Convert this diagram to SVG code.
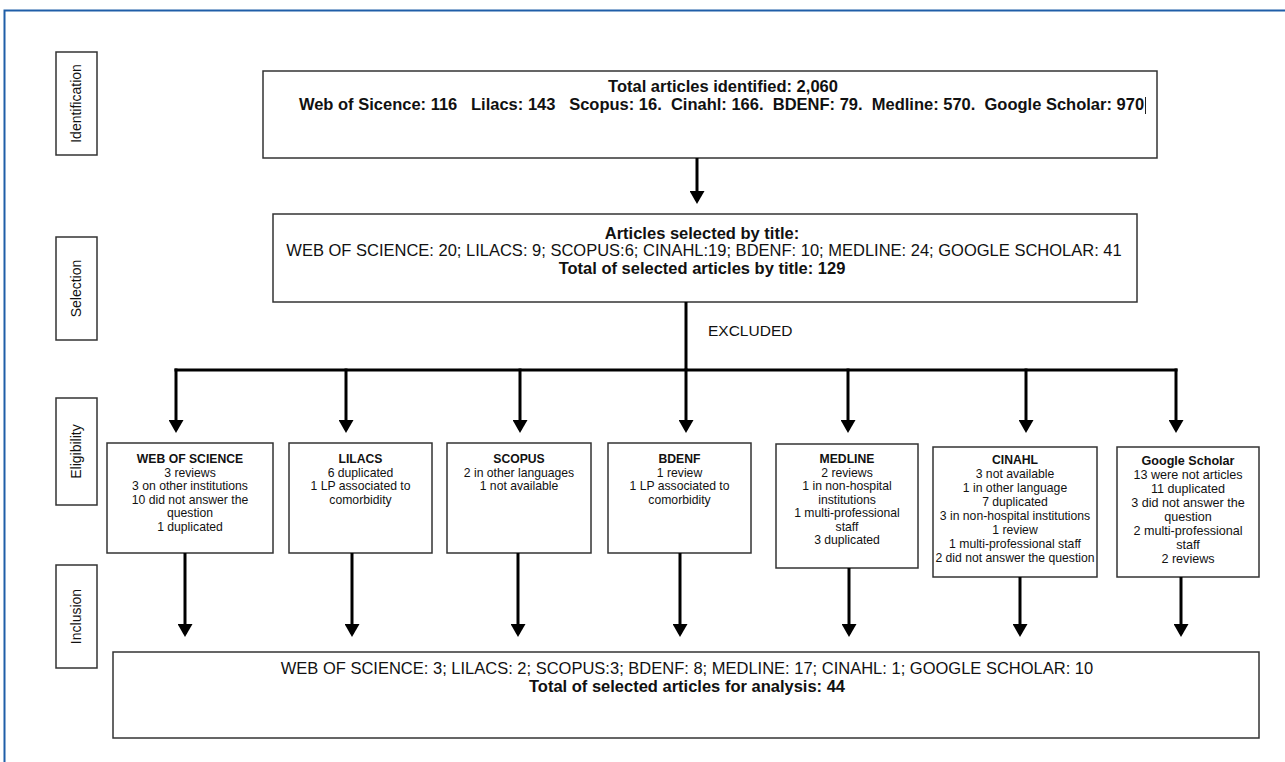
<svg xmlns="http://www.w3.org/2000/svg" width="1285" height="762" viewBox="0 0 1285 762">
<style>
text{font-family:"Liberation Sans",Arial,Helvetica,sans-serif;fill:#111;text-anchor:middle}
.b{font-weight:bold}
.box{fill:#fff;stroke:#333;stroke-width:1.5}
.big{font-size:16.5px}
.sm{font-size:12.2px}
.lab{font-size:14px}
.conn line{stroke:#000;stroke-width:3}
.arr{marker-end:url(#ah)}
</style>
<defs>
<marker id="ah" markerUnits="userSpaceOnUse" markerWidth="15" markerHeight="15" refX="10" refY="7.5" orient="auto">
<path d="M0,0 L13,7.5 L0,15 z" fill="#000"/>
</marker>
</defs>
<rect width="1285" height="762" fill="#fff"/>
<path d="M4.5,762 V10.5 H1285" fill="none" stroke="#1f5ea8" stroke-width="2"/>

<g id="label-identification"><rect class="box" x="56" y="52" width="41" height="103"/><text class="lab" transform="translate(81,103.5) rotate(-90)">Identification</text></g>
<g id="label-selection"><rect class="box" x="56" y="237" width="41" height="103"/><text class="lab" transform="translate(81,288.5) rotate(-90)">Selection</text></g>
<g id="label-eligibility"><rect class="box" x="56" y="398" width="41" height="107"/><text class="lab" transform="translate(81,451.5) rotate(-90)">Eligibility</text></g>
<g id="label-inclusion"><rect class="box" x="56" y="565" width="41" height="103"/><text class="lab" transform="translate(81,616.5) rotate(-90)">Inclusion</text></g>

<g id="identified"><rect class="box" x="263" y="71" width="894" height="87"/>
<text class="big b" x="723" y="92">Total articles identified: 2,060</text>
<text class="big b" x="721.5" y="110" xml:space="preserve">Web of Sicence: 116   Lilacs: 143   Scopus: 16.  Cinahl: 166.  BDENF: 79.  Medline: 570.  Google Scholar: 970</text>
<line x1="1145.5" y1="97" x2="1145.5" y2="114" stroke="#222" stroke-width="1"/>
</g>

<g id="selected"><rect class="box" x="273" y="214" width="864" height="88"/>
<text class="big b" x="702" y="239">Articles selected by title:</text>
<text class="big" x="704" y="256">WEB OF SCIENCE: 20; LILACS: 9; SCOPUS:6; CINAHL:19; BDENF: 10; MEDLINE: 24; GOOGLE SCHOLAR: 41</text>
<text class="big b" x="702" y="274">Total of selected articles by title: 129</text>
</g>

<g id="excluded-label"><text x="708" y="336" style="font-size:15.5px;text-anchor:start">EXCLUDED</text></g>

<g id="wos"><rect class="box" x="107" y="443" width="166" height="110"/>
<text class="sm b" x="190" y="463">WEB OF SCIENCE</text>
<text class="sm" x="190" y="476.5">3 reviews</text>
<text class="sm" x="190" y="490">3 on other institutions</text>
<text class="sm" x="190" y="503.5">10 did not answer the</text>
<text class="sm" x="190" y="517">question</text>
<text class="sm" x="190" y="530.5">1 duplicated</text>
</g>
<g id="lilacs"><rect class="box" x="289" y="443" width="143" height="110"/>
<text class="sm b" x="360.5" y="463">LILACS</text>
<text class="sm" x="360.5" y="476.5">6 duplicated</text>
<text class="sm" x="360.5" y="490">1 LP associated to</text>
<text class="sm" x="360.5" y="503.5">comorbidity</text>
</g>
<g id="scopus"><rect class="box" x="447" y="443" width="144" height="110"/>
<text class="sm b" x="519" y="463">SCOPUS</text>
<text class="sm" x="519" y="476.5">2 in other languages</text>
<text class="sm" x="519" y="490">1 not available</text>
</g>
<g id="bdenf"><rect class="box" x="608" y="443" width="143" height="110"/>
<text class="sm b" x="679.5" y="463">BDENF</text>
<text class="sm" x="679.5" y="476.5">1 review</text>
<text class="sm" x="679.5" y="490">1 LP associated to</text>
<text class="sm" x="679.5" y="503.5">comorbidity</text>
</g>
<g id="medline"><rect class="box" x="776" y="444" width="142" height="124"/>
<text class="sm b" x="847" y="463">MEDLINE</text>
<text class="sm" x="847" y="476.5">2 reviews</text>
<text class="sm" x="847" y="490">1 in non-hospital</text>
<text class="sm" x="847" y="503.5">institutions</text>
<text class="sm" x="847" y="517">1 multi-professional</text>
<text class="sm" x="847" y="530.5">staff</text>
<text class="sm" x="847" y="544">3 duplicated</text>
</g>
<g id="cinahl"><rect class="box" x="933" y="447" width="164" height="130"/>
<text class="sm b" x="1015" y="464">CINAHL</text>
<text class="sm" x="1015" y="478">3 not available</text>
<text class="sm" x="1015" y="492">1 in other language</text>
<text class="sm" x="1015" y="506">7 duplicated</text>
<text class="sm" x="1015" y="520">3 in non-hospital institutions</text>
<text class="sm" x="1015" y="534">1 review</text>
<text class="sm" x="1015" y="548">1 multi-professional staff</text>
<text class="sm" x="1015" y="562">2 did not answer the question</text>
</g>
<g id="google"><rect class="box" x="1117" y="447" width="142" height="130"/>
<text class="sm b" x="1188" y="465" style="font-size:12.6px">Google Scholar</text>
<text class="sm" x="1188" y="479" style="font-size:12.6px">13 were not articles</text>
<text class="sm" x="1188" y="493" style="font-size:12.6px">11 duplicated</text>
<text class="sm" x="1188" y="507" style="font-size:12.6px">3 did not answer the</text>
<text class="sm" x="1188" y="521" style="font-size:12.6px">question</text>
<text class="sm" x="1188" y="535" style="font-size:12.6px">2 multi-professional</text>
<text class="sm" x="1188" y="549" style="font-size:12.6px">staff</text>
<text class="sm" x="1188" y="563" style="font-size:12.6px">2 reviews</text>
</g>

<g id="included"><rect class="box" x="113" y="652" width="1146" height="86"/>
<text class="big" x="687" y="674">WEB OF SCIENCE: 3; LILACS: 2; SCOPUS:3; BDENF: 8; MEDLINE: 17; CINAHL: 1; GOOGLE SCHOLAR: 10</text>
<text class="big b" x="687" y="692">Total of selected articles for analysis: 44</text>
</g>

<g id="connectors" class="conn">
<line class="arr" x1="697" y1="158" x2="697" y2="201"/>
<line x1="686" y1="302" x2="686" y2="371"/>
<line x1="174.5" y1="370" x2="1177.5" y2="370"/>
<line class="arr" x1="176" y1="368.5" x2="176" y2="430"/>
<line class="arr" x1="346" y1="368.5" x2="346" y2="430"/>
<line class="arr" x1="520" y1="368.5" x2="520" y2="430"/>
<line class="arr" x1="686" y1="368.5" x2="686" y2="430"/>
<line class="arr" x1="848" y1="368.5" x2="848" y2="430"/>
<line class="arr" x1="1026" y1="368.5" x2="1026" y2="430"/>
<line class="arr" x1="1176" y1="368.5" x2="1176" y2="430"/>
<line class="arr" x1="185" y1="553" x2="185" y2="634"/>
<line class="arr" x1="352" y1="553" x2="352" y2="634"/>
<line class="arr" x1="518" y1="553" x2="518" y2="634"/>
<line class="arr" x1="680" y1="553" x2="680" y2="634"/>
<line class="arr" x1="849" y1="568" x2="849" y2="634"/>
<line class="arr" x1="1020" y1="577" x2="1020" y2="634"/>
<line class="arr" x1="1181" y1="577" x2="1181" y2="634"/>
</g>
</svg>
